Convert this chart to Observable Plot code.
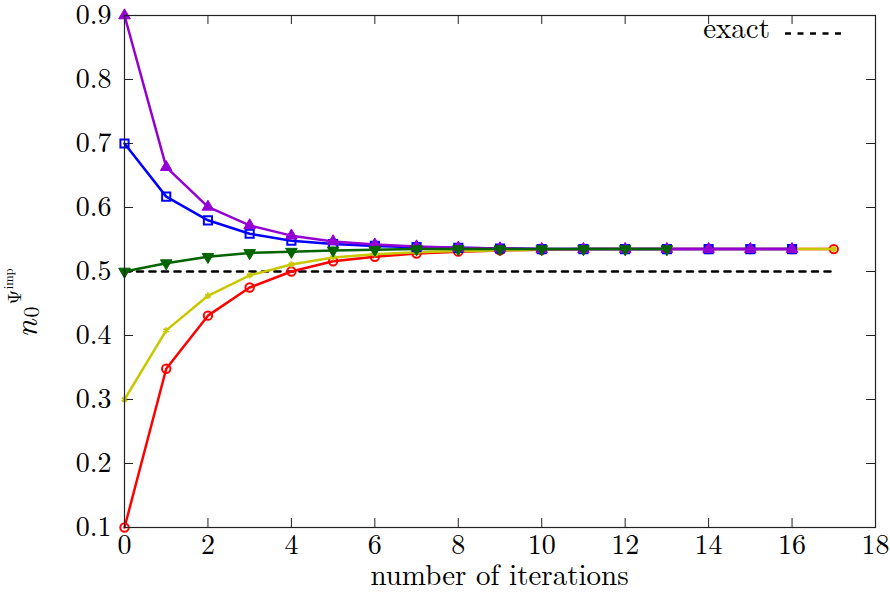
<!DOCTYPE html>
<html>
<head>
<meta charset="utf-8">
<script src="https://cdn.jsdelivr.net/npm/d3@7"></script>
<script src="https://cdn.jsdelivr.net/npm/@observablehq/plot@0.6"></script>
<style>
  body { margin: 0; background: #fff; }
  #chart svg { display: block; }
</style>
</head>
<body>
<div id="chart"></div>
<script>
// Impurity occupation n0 per self-consistency iteration, for five starting guesses.
const iterRed    = [0, 1, 2, 3, 4, 5, 6, 7, 8, 9, 10, 11, 12, 13, 14, 15, 16, 17];
const valRed     = [0.100, 0.348, 0.431, 0.475, 0.500, 0.516, 0.523, 0.528, 0.531, 0.533, 0.534, 0.535, 0.535, 0.535, 0.535, 0.535, 0.535, 0.535];
const iterYellow = [0, 1, 2, 3, 4, 5, 6, 7, 8, 9, 10, 11, 12, 13, 14, 15, 16, 17];
const valYellow  = [0.300, 0.408, 0.462, 0.494, 0.511, 0.522, 0.527, 0.530, 0.532, 0.533, 0.534, 0.535, 0.535, 0.535, 0.535, 0.535, 0.535, 0.535];
const iterBlue   = [0, 1, 2, 3, 4, 5, 6, 7, 8, 9, 10, 11, 12, 13, 14, 15, 16];
const valBlue    = [0.700, 0.617, 0.580, 0.559, 0.548, 0.543, 0.540, 0.538, 0.537, 0.536, 0.535, 0.535, 0.535, 0.535, 0.535, 0.535, 0.535];
const iterPurple = [0, 1, 2, 3, 4, 5, 6, 7, 8, 9, 10, 11, 12, 13, 14, 15, 16];
const valPurple  = [0.900, 0.663, 0.601, 0.572, 0.556, 0.547, 0.542, 0.539, 0.537, 0.536, 0.535, 0.535, 0.535, 0.535, 0.535, 0.535, 0.535];
const iterGreen  = [0, 1, 2, 3, 4, 5, 6, 7, 8, 9, 10, 11, 12, 13];
const valGreen   = [0.500, 0.513, 0.523, 0.529, 0.531, 0.533, 0.534, 0.535, 0.535, 0.535, 0.535, 0.535, 0.535, 0.535];

// Exact reference value, drawn across the iteration range
const exactValue = 0.5;
const exactIters = [0, 17];

const xTicks = [0, 2, 4, 6, 8, 10, 12, 14, 16, 18];
const yTicks = [0.1, 0.2, 0.3, 0.4, 0.5, 0.6, 0.7, 0.8, 0.9];
const xLabel = "number of iterations";
const legendLabel = "exact";

const W = 890, H = 592;
const mL = 124, mR = 15, mT = 15, mB = 65;
const plotW = W - mL - mR, plotH = H - mT - mB;
const tickLen = 9;
const axisColor = "#222";
const font = "'Latin Modern Roman', 'Liberation Serif', serif";

const toRows = (xs, ys) => xs.map((x, i) => ({x, y: ys[i]}));
const red = toRows(iterRed, valRed);
const yellow = toRows(iterYellow, valYellow);
const blue = toRows(iterBlue, valBlue);
const purple = toRows(iterPurple, valPurple);
const green = toRows(iterGreen, valGreen);
const exact = exactIters.map(x => ({x, y: exactValue}));

const lw = 2.5;
const chart = Plot.plot({
  width: W, height: H,
  marginLeft: mL, marginRight: mR, marginTop: mT, marginBottom: mB,
  style: {fontFamily: font, fontSize: "28px", color: "#000", background: "#fff", overflow: "visible"},
  x: {domain: [0, 18]},
  y: {domain: [0.1, 0.9]},
  marks: [
    // inward ticks on all four sides
    Plot.tickX(xTicks, {x: d => d, insetTop: plotH - tickLen, stroke: axisColor}),
    Plot.tickX(xTicks, {x: d => d, insetBottom: plotH - tickLen, stroke: axisColor}),
    Plot.tickY(yTicks, {y: d => d, insetRight: plotW - tickLen, stroke: axisColor}),
    Plot.tickY(yTicks, {y: d => d, insetLeft: plotW - tickLen, stroke: axisColor}),
    Plot.axisX({ticks: xTicks, tickSize: 0, tickPadding: 7, tickFormat: d3.format("d"),
      label: null, fontSize: 28}),
    Plot.axisY({ticks: yTicks, tickSize: 0, tickPadding: 13, tickFormat: d3.format(".1f"),
      label: null, fontSize: 28}),
    Plot.line(exact, {x: "x", y: "y", stroke: "#000", strokeWidth: 2.6, strokeDasharray: "6,6.5"}),

    Plot.line(red, {x: "x", y: "y", stroke: "#ff0000", strokeWidth: lw}),
    Plot.dot(red, {x: "x", y: "y", symbol: "circle", r: 4.2, stroke: "#ff0000", strokeWidth: 2, fill: "none"}),

    Plot.line(yellow, {x: "x", y: "y", stroke: "#c8c800", strokeWidth: lw}),
    Plot.dot(yellow, {x: "x", y: "y", symbol: "asterisk", r: 3, stroke: "#c8c800", strokeWidth: 1.8}),

    Plot.line(blue, {x: "x", y: "y", stroke: "#0000ff", strokeWidth: lw}),
    Plot.dot(blue, {x: "x", y: "y", symbol: "square", r: 4.6, stroke: "#0000ff", strokeWidth: 2, fill: "none"}),

    Plot.line(purple, {x: "x", y: "y", stroke: "#9400d3", strokeWidth: lw}),
    Plot.dot(purple, {x: "x", y: "y", symbol: "triangle", r: 4.3, fill: "#9400d3", stroke: "#9400d3", strokeWidth: 1}),

    Plot.line(green, {x: "x", y: "y", stroke: "#006400", strokeWidth: lw}),
    Plot.dot(green, {x: "x", y: "y", symbol: "triangle", rotate: 180, r: 4.3, fill: "#006400", stroke: "#006400", strokeWidth: 1}),

    Plot.frame({stroke: axisColor, strokeWidth: 1.2})
  ]
});

const svg = d3.select(chart);

// x-axis title
svg.append("text")
  .attr("x", mL + plotW / 2).attr("y", H - 7.5)
  .attr("text-anchor", "middle")
  .attr("font-size", 29).attr("fill", "#000")
  .text(xLabel);

// y-axis label: n_0 with superscript Ψ^imp, rotated
const yl = svg.append("text")
  .attr("transform", `translate(36.5, 303) rotate(-90)`)
  .attr("font-size", 32)
  .attr("fill", "#000");
yl.append("tspan").attr("font-style", "italic").text("n");
yl.append("tspan").attr("font-size", 22).attr("dx", 2).attr("dy", 2).text("0");
yl.append("tspan").attr("font-size", 19).attr("dx", 2).attr("dy", -18).text("Ψ");
yl.append("tspan").attr("font-size", 12.5).attr("dx", 0.5).attr("dy", -8).text("imp");

// legend, top-right inside the frame
const lgY = mT + 18.5;
const lgX1 = W - mR - 30, lgX0 = lgX1 - 60;
svg.append("text")
  .attr("x", lgX0 - 15).attr("y", lgY + 4)
  .attr("text-anchor", "end")
  .attr("font-size", 29)
  .attr("fill", "#000")
  .text(legendLabel);
svg.append("line")
  .attr("x1", lgX0).attr("x2", lgX1).attr("y1", lgY).attr("y2", lgY)
  .attr("stroke", "#000").attr("stroke-width", 2.6).attr("stroke-dasharray", "6,6.5");

// make every label use the same serif face
svg.selectAll("text").attr("font-family", font);
svg.selectAll("g").filter(function() { return this.getAttribute("font-family"); }).attr("font-family", font);

document.getElementById("chart").appendChild(chart);
</script>
</body>
</html>
